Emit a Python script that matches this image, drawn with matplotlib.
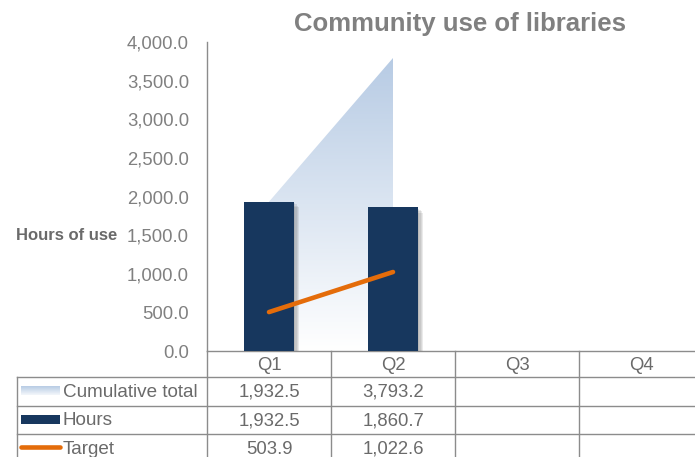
import numpy as np
import matplotlib.pyplot as plt
import matplotlib.patheffects as pe
from matplotlib.colors import LinearSegmentedColormap

plt.rcParams['font.family'] = ['Liberation Sans', 'DejaVu Sans']

quarters = ['Q1', 'Q2', 'Q3', 'Q4']
cumulative = [1932.5, 3793.2]
hours = [1932.5, 1860.7]
target = [503.9, 1022.6]

NAVY = '#17375E'
ORANGE = '#E46C0A'
AREA_TOP = '#B7CBE4'
TEXT = '#808080'
TABLE_TEXT = '#6A6A6A'
LINE = '#8C8C8C'

W, H = 695, 457
fig = plt.figure(figsize=(W / 100, H / 100), dpi=100)

# plot area in pixel units
px_left, px_top, px_bottom = 207, 42, 351
col_w = 124
ax = fig.add_axes([px_left / W, 1 - px_bottom / H,
                   len(quarters) * col_w / W, (px_bottom - px_top) / H])

x = np.arange(1, len(quarters) + 1)
xc = x[:len(cumulative)]

# cumulative total: area with vertical gradient fill
grad = LinearSegmentedColormap.from_list('g', ['#FFFFFF', AREA_TOP])
poly = ax.fill_between(xc, 0, cumulative, color='none', lw=0, zorder=1)
img = ax.imshow(np.linspace(0, 1, 256).reshape(-1, 1), cmap=grad, aspect='auto',
                origin='lower', extent=[xc[0], xc[-1], 0, max(cumulative)], zorder=1)
img.set_clip_path(poly.get_paths()[0], transform=ax.transData)

# hours bars with a soft drop shadow (stacked faint offsets)
shadow = [pe.SimplePatchShadow(offset=(d, -d), shadow_rgbFace='#606060', alpha=0.13)
          for d in (1, 2, 3, 4)]
ax.bar(x[:len(hours)], hours, width=0.4, color=NAVY, zorder=3,
       path_effects=shadow + [pe.Normal()])

# target line
ax.plot(x[:len(target)], target, color=ORANGE, lw=3.3, solid_capstyle='round', zorder=4)

ax.set_xlim(0.5, len(quarters) + 0.5)
ax.set_ylim(0, 4000)
ax.set_yticks(np.arange(0, 4001, 500))
ax.set_yticklabels([f'{v:,.1f}' for v in np.arange(0, 4001, 500)])
ax.tick_params(axis='y', length=0, labelsize=13.3, labelcolor=TEXT, pad=13)
ax.set_xticks([])
for s in ['top', 'right']:
    ax.spines[s].set_visible(False)
for s in ['left', 'bottom']:
    ax.spines[s].set_color(LINE)
    ax.spines[s].set_linewidth(1)
ax.patch.set_alpha(0)

fig.text(460 / W, 1 - 24 / H, 'Community use of libraries', ha='center', va='center',
         fontsize=18.5, fontweight='bold', color=TEXT)
fig.text(67 / W, 1 - 236 / H, 'Hours of use', ha='center', va='center',
         fontsize=12, fontweight='bold', color=TABLE_TEXT)

# data table drawn in pixel coordinates below the plot
tab = fig.add_axes([0, 0, 1, 1])
tab.set_xlim(0, W)
tab.set_ylim(H, 0)
tab.axis('off')
tab.patch.set_alpha(0)

tbl_left = 17
right = px_left + len(quarters) * col_w
row_edges = [px_bottom, 377, 405.5, 434, 462.5]

for y in row_edges[1:4]:
    tab.plot([tbl_left, right], [y, y], color=LINE, lw=1)
tab.plot([tbl_left, tbl_left], [row_edges[1], H], color=LINE, lw=1)
for i in range(len(quarters) + 1):
    xl = px_left + i * col_w
    tab.plot([xl, xl], [px_bottom, H], color=LINE, lw=1)

for i, q in enumerate(quarters):
    tab.text(px_left + (i + 0.5) * col_w, (row_edges[0] + row_edges[1]) / 2 + 1, q,
             ha='center', va='center', fontsize=13.3, color=TABLE_TEXT)

rows = [('Cumulative total', cumulative), ('Hours', hours), ('Target', target)]
for r, (name, vals) in enumerate(rows):
    yc = (row_edges[r + 1] + row_edges[r + 2]) / 2 + 1
    tab.text(63, yc, name, ha='left', va='center', fontsize=13.6, color=TABLE_TEXT)
    for i, v in enumerate(vals):
        tab.text(px_left + (i + 0.5) * col_w, yc, f'{v:,.1f}',
                 ha='center', va='center', fontsize=13.3, color=TABLE_TEXT)

# legend keys in the table
tab.imshow(np.linspace(0, 1, 64).reshape(-1, 1), cmap=LinearSegmentedColormap.from_list(
    'k', [AREA_TOP, '#F4F7FB']), aspect='auto', extent=[21, 60, 395, 386], zorder=2)
tab.add_patch(plt.Rectangle((21, 415), 39, 9, color=NAVY, lw=0))
tab.plot([21, 60], [447, 447], color=ORANGE, lw=3.3, solid_capstyle='round')
tab.set_xlim(0, W)
tab.set_ylim(H, 0)

fig.savefig('out.png', dpi=100)
